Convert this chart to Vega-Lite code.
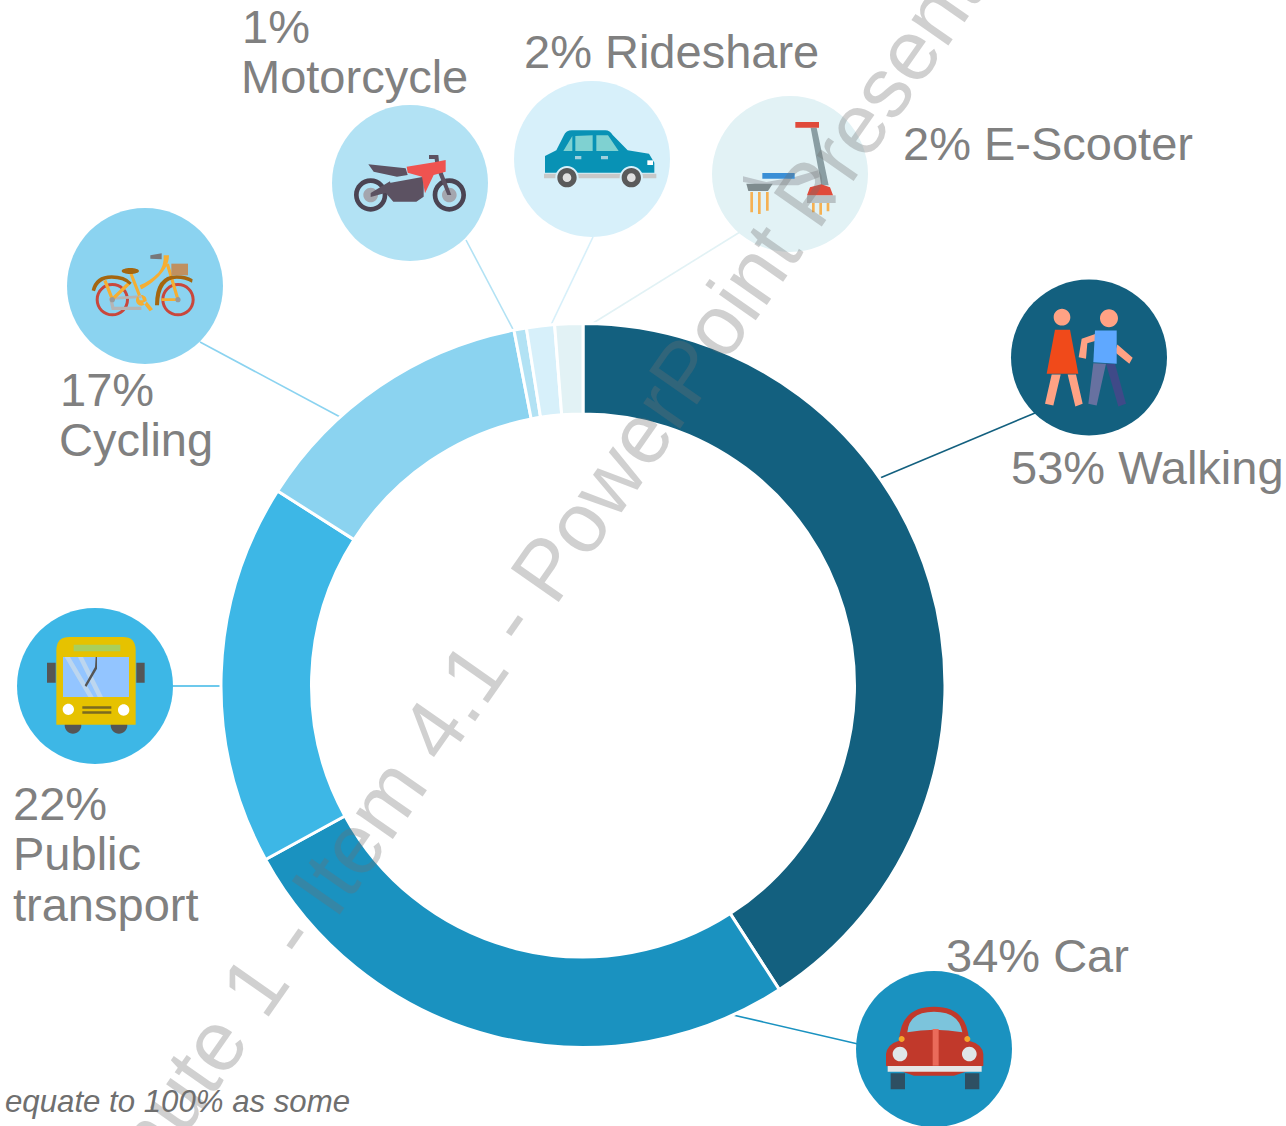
{
"$schema":"https://vega.github.io/schema/vega-lite/v6.json",
"width":1286,"height":1126,"padding":0,"autosize":{"type":"none"},"background":"white",
"config":{"view":{"stroke":null}},
"datasets":{
"modes":[
{"mode":"Walking","pct":53,"rank":1,"ox":0,"oy":-0.5,"cx":506,"cy":327.5,"x1":297,"y1":207,"x2":452,"y2":272},
{"mode":"Car","pct":33.9,"rank":2,"ox":0,"oy":-0.5,"cx":351,"cy":-364,"x1":150,"y1":-330,"x2":275,"y2":-359},
{"mode":"Public transport","pct":22.05,"rank":3,"ox":0,"oy":-0.5,"cx":-488,"cy":-1,"x1":-410,"y1":-1,"x2":-361,"y2":-1},
{"mode":"Cycling","pct":16.75,"rank":4,"ox":0,"oy":-0.5,"cx":-438,"cy":399,"x1":-383,"y1":343,"x2":-241,"y2":267},
{"mode":"Motorcycle","pct":0.72,"rank":5,"ox":0,"oy":-0.5,"cx":-173,"cy":502,"x1":-117,"y1":445,"x2":-67,"y2":350},
{"mode":"Rideshare","pct":1.62,"rank":6,"ox":0,"oy":-0.5,"cx":9,"cy":526,"x1":10,"y1":448,"x2":-33,"y2":358},
{"mode":"E-Scooter","pct":1.62,"rank":7,"ox":0,"oy":-0.5,"cx":207,"cy":511,"x1":157,"y1":453,"x2":7,"y2":360}
],
"labels":[
{"t":"1%","lx":-341,"ly":642},{"t":"Motorcycle","lx":-342,"ly":592},
{"t":"2% Rideshare","lx":-59,"ly":617},{"t":"2% E-Scooter","lx":320,"ly":525},
{"t":"53% Walking","lx":428,"ly":201},{"t":"34% Car","lx":363,"ly":-287},
{"t":"22%","lx":-570,"ly":-135},{"t":"Public","lx":-570,"ly":-185},{"t":"transport","lx":-570,"ly":-236},
{"t":"17%","lx":-523,"ly":279},{"t":"Cycling","lx":-524,"ly":229}
],
"notes":[{"t":"equate to 100% as some","lx":-578,"ly":-427}],
"wm":[{"t":"Minute 1 - Item 4.1 - PowerPoint Presentation","lx":-478,"ly":-565}],
"parts":[
{"part":"wk_skin","mode":"Walking"},{"part":"wk_dress","mode":"Walking"},{"part":"wk_legl","mode":"Walking"},{"part":"wk_legr","mode":"Walking"},{"part":"wk_torso","mode":"Walking"},
{"part":"mc_wheel","mode":"Motorcycle"},{"part":"mc_inner","mode":"Motorcycle"},{"part":"mc_hub","mode":"Motorcycle"},{"part":"mc_body","mode":"Motorcycle"},{"part":"mc_tank","mode":"Motorcycle"},
{"part":"rs_bumper","mode":"Rideshare"},{"part":"rs_body","mode":"Rideshare"},{"part":"rs_win","mode":"Rideshare"},{"part":"rs_handle","mode":"Rideshare"},{"part":"rs_light","mode":"Rideshare"},{"part":"rs_ring","mode":"Rideshare"},{"part":"rs_tire","mode":"Rideshare"},{"part":"rs_hub","mode":"Rideshare"},
{"part":"es_flame","mode":"E-Scooter"},{"part":"es_stem","mode":"E-Scooter"},{"part":"es_deck","mode":"E-Scooter"},{"part":"es_pad","mode":"E-Scooter"},{"part":"es_fender","mode":"E-Scooter"},{"part":"es_base","mode":"E-Scooter"},{"part":"es_red","mode":"E-Scooter"},
{"part":"cy_wheel","mode":"Cycling"},{"part":"cy_inner","mode":"Cycling"},{"part":"cy_chain","mode":"Cycling"},{"part":"cy_frame","mode":"Cycling"},{"part":"cy_fender","mode":"Cycling"},{"part":"cy_hub","mode":"Cycling"},{"part":"cy_bar","mode":"Cycling"},{"part":"cy_basket","mode":"Cycling"},
{"part":"bs_dark","mode":"Public transport"},{"part":"bs_body","mode":"Public transport"},{"part":"bs_strip","mode":"Public transport"},{"part":"bs_win","mode":"Public transport"},{"part":"bs_shine","mode":"Public transport"},{"part":"bs_wiper","mode":"Public transport"},{"part":"bs_light","mode":"Public transport"},{"part":"bs_grille","mode":"Public transport"},
{"part":"cr_tire","mode":"Car"},{"part":"cr_body","mode":"Car"},{"part":"cr_glass","mode":"Car"},{"part":"cr_strip","mode":"Car"},{"part":"cr_lamp","mode":"Car"},{"part":"cr_sig","mode":"Car"},{"part":"cr_bumper","mode":"Car"}
]
},
"layer":[
{"data":{"name":"modes"},
 "mark":{"type":"rule","strokeWidth":1.6},
 "encoding":{
  "x":{"field":"x1","type":"quantitative","scale":{"domain":[-583,703],"nice":false,"zero":false},"axis":null},
  "y":{"field":"y1","type":"quantitative","scale":{"domain":[-441,685],"nice":false,"zero":false},"axis":null},
  "x2":{"field":"x2"},"y2":{"field":"y2"},
  "color":{"field":"mode","type":"nominal","legend":null,"scale":{"domain":["Walking","Car","Public transport","Cycling","Motorcycle","Rideshare","E-Scooter"],"range":["#13607f","#1a92c0","#3db7e6","#8bd3f0","#b2e2f4","#d7f0fa","#e2f2f5"]}}
 }},
{"data":{"name":"modes"},
 "mark":{"type":"arc","radius":362,"radius2":271.5,"stroke":"white","strokeWidth":3},
 "encoding":{
  "x":{"field":"ox","type":"quantitative","scale":{"domain":[-583,703],"nice":false,"zero":false},"axis":null},
  "y":{"field":"oy","type":"quantitative","scale":{"domain":[-441,685],"nice":false,"zero":false},"axis":null},
  "theta":{"field":"pct","type":"quantitative","stack":true},
  "order":{"field":"rank","type":"quantitative"},
  "color":{"field":"mode","type":"nominal","legend":null,"scale":{"domain":["Walking","Car","Public transport","Cycling","Motorcycle","Rideshare","E-Scooter"],"range":["#13607f","#1a92c0","#3db7e6","#8bd3f0","#b2e2f4","#d7f0fa","#e2f2f5"]}}
 }},
{"data":{"name":"modes"},
 "mark":{"type":"point","shape":"circle","filled":true,"opacity":1,"size":24336},
 "encoding":{
  "x":{"field":"cx","type":"quantitative","scale":{"domain":[-583,703],"nice":false,"zero":false},"axis":null},
  "y":{"field":"cy","type":"quantitative","scale":{"domain":[-441,685],"nice":false,"zero":false},"axis":null},
  "color":{"field":"mode","type":"nominal","legend":null,"scale":{"domain":["Walking","Car","Public transport","Cycling","Motorcycle","Rideshare","E-Scooter"],"range":["#13607f","#1a92c0","#3db7e6","#8bd3f0","#b2e2f4","#d7f0fa","#e2f2f5"]}}
 }},
{"data":{"name":"parts"},
 "transform":[{"lookup":"mode","from":{"data":{"name":"modes"},"key":"mode","fields":["cx","cy"]}}],
 "mark":{"type":"point","filled":true,"opacity":1,"size":0.4444},
 "encoding":{
  "x":{"field":"cx","type":"quantitative","scale":{"domain":[-583,703],"nice":false,"zero":false},"axis":null},
  "y":{"field":"cy","type":"quantitative","scale":{"domain":[-441,685],"nice":false,"zero":false},"axis":null},
  "color":{"field":"part","type":"nominal","legend":null,"scale":{
   "domain":["wk_skin","wk_dress","wk_legl","wk_legr","wk_torso","mc_wheel","mc_inner","mc_hub","mc_body","mc_tank","rs_bumper","rs_body","rs_win","rs_handle","rs_light","rs_ring","rs_tire","rs_hub","es_flame","es_stem","es_deck","es_pad","es_fender","es_base","es_red","cy_wheel","cy_inner","cy_chain","cy_frame","cy_fender","cy_hub","cy_bar","cy_basket","bs_dark","bs_body","bs_strip","bs_win","bs_shine","bs_wiper","bs_light","bs_grille","cr_tire","cr_body","cr_glass","cr_strip","cr_lamp","cr_sig","cr_bumper"],
   "range":["#ffa284","#f04a1a","#6771a0","#3f4a88","#5fa8ff","#4b4453","#b2e2f4","#a4a6ae","#5c5262","#ef5350","#c8c8c8","#0892b5","#7fd1d1","#9fd0dc","#ffffff","#d7f0fa","#5a5a5a","#e0e0e0","#f5b153","#8a9ea3","#bcc6cb","#3a8fd6","#7f8c8f","#b9c2c5","#e04a3a","#c9473c","#8bd3f0","#b5b5b5","#f5ae33","#a5660f","#9a9a9a","#77787a","#c09060","#555555","#e6c200","#a9cf5c","#93c5ff","#bcd6ef","#555555","#ffffff","#7a6a20","#2e4f62","#c1392b","#7cc4dc","#ea6a5a","#dfe6e8","#f5a52a","#e6e6e6"]}},
  "shape":{"field":"part","type":"nominal","legend":null,"scale":{
   "domain":["wk_skin","wk_dress","wk_legl","wk_legr","wk_torso","mc_wheel","mc_inner","mc_hub","mc_body","mc_tank","rs_bumper","rs_body","rs_win","rs_handle","rs_light","rs_ring","rs_tire","rs_hub","es_flame","es_stem","es_deck","es_pad","es_fender","es_base","es_red","cy_wheel","cy_inner","cy_chain","cy_frame","cy_fender","cy_hub","cy_bar","cy_basket","bs_dark","bs_body","bs_strip","bs_win","bs_shine","bs_wiper","bs_light","bs_grille","cr_tire","cr_body","cr_glass","cr_strip","cr_lamp","cr_sig","cr_bumper"],
   "range":[
   "M-106 -121a25 25 0 1 0 50 0a25 25 0 1 0 -50 0ZM33 -118a27 27 0 1 0 54 0a27 27 0 1 0 -54 0ZM-112 51L-85 51L-107 144L-132 139ZM-64 51L-39 51L-19 139L-41 147ZM85 -39L131 1L121 19L78 -16ZM21 -71L23 -51L-5 -43L-9 4L-31 -1L-22 -56Z",
   "M-102 -83L-57 -83L-32 49L-127 49Z",
   "M13 17L51 19L23 144L-2 139Z",
   "M51 19L78 19L111 139L88 147Z",
   "M18 -81L83 -81L83 19L13 14Z",
   "M-168 36a50 50 0 1 0 100 0a50 50 0 1 0 -100 0ZM68 36a50 50 0 1 0 100 0a50 50 0 1 0 -100 0Z",
   "M-154 36a36 36 0 1 0 72 0a36 36 0 1 0 -72 0ZM82 36a36 36 0 1 0 72 0a36 36 0 1 0 -72 0Z",
   "M-140 36a22 22 0 1 0 44 0a22 22 0 1 0 -44 0ZM96 36a22 22 0 1 0 44 0a22 22 0 1 0 -44 0Z",
   "M-125 -56L-13 -44L-7 -24L-39 -19L-109 -34ZM-66 1L41 -19L41 41L19 56L-50 56L-72 31ZM-118 30L-60 -5L-55 25L-118 42ZM75 -54L88 -58L124 36L112 36ZM57 -84L85 -84L88 -54L76 -56L74 -72L57 -72Z",
   "M-10 -49L73 -62L107 -69L107 -34L71 -24L45 31L36 -19L-7 -31Z",
   "M-144 44L193 44L193 58L-144 58Z",
   "M-141 41L-141 -9L-107 -26L-85 -70Q-78 -86 -60 -86L40 -86Q54 -86 62 -72L107 -26L171 -16L187 11L187 41Z",
   "M-86 -24L-59 -69L-59 -24ZM-50 -69L2 -71L2 -24L-50 -24ZM13 -71L48 -71L80 -24L13 -24Z",
   "M-51 -9L-32 -9L-32 1L-51 1ZM27 -9L48 -9L48 1L27 1Z",
   "M166 4L183 4L183 18L166 18Z",
   "M-110 56a35 35 0 1 0 70 0a35 35 0 1 0 -70 0ZM83 56a35 35 0 1 0 70 0a35 35 0 1 0 -70 0Z",
   "M-104 56a29 29 0 1 0 58 0a29 29 0 1 0 -58 0ZM89 56a29 29 0 1 0 58 0a29 29 0 1 0 -58 0Z",
   "M-88 56a13 13 0 1 0 26 0a13 13 0 1 0 -26 0ZM105 56a13 13 0 1 0 26 0a13 13 0 1 0 -26 0Z",
   "M-119 54L-111 54L-111 115L-119 115ZM-96 54L-88 54L-88 120L-96 120ZM-72 54L-64 54L-64 110L-72 110ZM66 87L74 87L74 115L66 115ZM88 87L96 87L96 122L88 122ZM110 87L118 87L118 112L110 112Z",
   "M62 -139L80 -139L116 34L94 34Z",
   "M-141 7L-71 24L14 9L84 -11L89 9L25 34L-83 34L-141 24Z",
   "M-83 -3L14 -3L14 14L-83 14Z",
   "M-131 29L-52 29L-66 51L-125 51Z",
   "M51 64L137 64L137 87L51 87Z",
   "M16 -156L87 -156L87 -139L16 -139ZM51 64L60 40L94 31L120 40L129 64Z",
   "M-148 41a50 50 0 1 0 100 0a50 50 0 1 0 -100 0ZM49 41a50 50 0 1 0 100 0a50 50 0 1 0 -100 0Z",
   "M-139 41a41 41 0 1 0 82 0a41 41 0 1 0 -82 0ZM58 41a41 41 0 1 0 82 0a41 41 0 1 0 -82 0Z",
   "M-108 36L-98 36L-92 62L-11 62L-11 72L-100 72ZM-98 33L-11 28L-11 36L-98 41Z",
   "M56 -92L72 -92Q72 -50 20 -10Q-5 8 -12 10L-16 -2Q15 -15 40 -40Q58 -60 56 -92ZM62 -67L72 -67L104 41L94 41ZM-49 -42L-39 -42L-6 43L-16 43ZM-102 37L-48 -15L-42 -7L-96 45ZM-125 -15L-116 -19L-93 39L-102 43ZM49 37L99 37L99 45L49 45ZM-27 43a16 16 0 1 0 32 0a16 16 0 1 0 -32 0ZM-6 50L4 45L24 70L14 76Z",
   "M-160 13Q-150 -32 -100 -32Q-60 -32 -40 -10L-46 -4Q-65 -22 -100 -22Q-140 -22 -150 16ZM30 58Q30 -32 95 -32Q125 -32 143 -20L141 -10Q120 -22 95 -22Q44 -22 42 58ZM-70 -45a26 9 0 1 0 52 0a26 9 0 1 0 -52 0Z",
   "M-106 41a8 8 0 1 0 16 0a8 8 0 1 0 -16 0ZM91 41a8 8 0 1 0 16 0a8 8 0 1 0 -16 0Z",
   "M16 -92L50 -98L50 -80L16 -82Z",
   "M79 -67L129 -67L129 -32L79 -32Z",
   "M-144 -70L-118 -70L-118 -10L-144 -10ZM124 -70L149 -70L149 -10L124 -10ZM-91 118a25 25 0 1 0 50 0a25 25 0 1 0 -50 0ZM47 118a25 25 0 1 0 50 0a25 25 0 1 0 -50 0Z",
   "M-116 116L-116 -107Q-116 -147 -76 -147L84 -147Q122 -147 122 -107L122 116Z",
   "M-64 -124L76 -124L76 -104L-64 -104Z",
   "M-96 -87L102 -87L102 33L-96 33Z",
   "M-91 -87L-75 -87L-4 33L-20 33ZM-51 -87L-36 -87L24 33L8 33Z",
   "M2 -87L6 -87L6 -52L-26 3L-31 -2L0 -57Z",
   "M-97 70a17 17 0 1 0 34 0a17 17 0 1 0 -34 0ZM69 72a17 17 0 1 0 34 0a17 17 0 1 0 -34 0Z",
   "M-38 61L49 61L49 68L-38 68ZM-38 76L49 76L49 83L-38 83Z",
   "M-130 73L-87 73L-87 121L-130 121ZM93 73L136 73L136 121L93 121Z",
   "M-144 50L-144 15Q-140 -15 -105 -25Q-100 -127 0 -127Q100 -127 105 -25Q145 -15 148 15L148 50L60 80L-60 80Z",
   "M-80 -50Q-75 -112 0 -112Q75 -112 85 -50Q0 -65 -80 -50Z",
   "M-4 -60L14 -60L14 50L-4 50Z",
   "M-124 15a22 22 0 1 0 44 0a22 22 0 1 0 -44 0ZM84 15a22 22 0 1 0 44 0a22 22 0 1 0 -44 0Z",
   "M-106 -30a9 9 0 1 0 18 0a9 9 0 1 0 -18 0ZM91 -30a9 9 0 1 0 18 0a9 9 0 1 0 -18 0Z",
   "M-139 51L143 51L143 68L-139 68Z"
   ]}}
 }},
{"data":{"name":"labels"},
 "mark":{"type":"text","align":"left","baseline":"alphabetic","font":"Liberation Sans","fontSize":47,"color":"#808080"},
 "encoding":{
  "x":{"field":"lx","type":"quantitative","scale":{"domain":[-583,703],"nice":false,"zero":false},"axis":null},
  "y":{"field":"ly","type":"quantitative","scale":{"domain":[-441,685],"nice":false,"zero":false},"axis":null},
  "text":{"field":"t"}
 }},
{"data":{"name":"notes"},
 "mark":{"type":"text","align":"left","baseline":"alphabetic","font":"Liberation Sans","fontStyle":"italic","fontSize":31.2,"color":"#6f6f6f"},
 "encoding":{
  "x":{"field":"lx","type":"quantitative","scale":{"domain":[-583,703],"nice":false,"zero":false},"axis":null},
  "y":{"field":"ly","type":"quantitative","scale":{"domain":[-441,685],"nice":false,"zero":false},"axis":null},
  "text":{"field":"t"}
 }},
{"data":{"name":"wm"},
 "mark":{"type":"text","align":"left","baseline":"alphabetic","font":"Liberation Sans","fontSize":85,"angle":305,"color":"#707070","opacity":0.32},
 "encoding":{
  "x":{"field":"lx","type":"quantitative","scale":{"domain":[-583,703],"nice":false,"zero":false},"axis":null},
  "y":{"field":"ly","type":"quantitative","scale":{"domain":[-441,685],"nice":false,"zero":false},"axis":null},
  "text":{"field":"t"}
 }}
],
"resolve":{"scale":{"color":"independent","shape":"independent"}}
}
